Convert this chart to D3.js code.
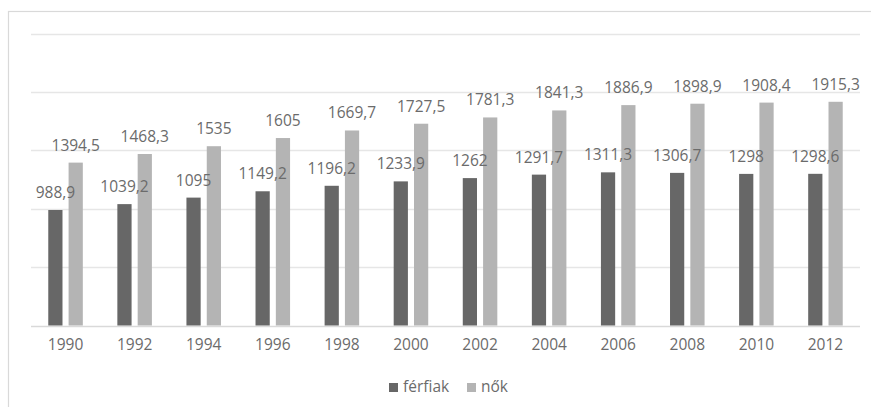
<!DOCTYPE html>
<html>
<head>
<meta charset="utf-8">
<script src="https://cdn.jsdelivr.net/npm/d3@7"></script>
<style>
  html, body { margin: 0; padding: 0; background: #fff; }
  svg { display: block; }
  text { font-family: "Open Sans", "Liberation Sans", sans-serif; fill: #6b6b6b; }
</style>
</head>
<body>
<svg id="chart" width="871" height="407"></svg>
<script>
// Years on the category axis
const years = ["1990","1992","1994","1996","1998","2000","2002","2004","2006","2008","2010","2012"];
// Series names
const seriesNames = ["férfiak", "nők"];
// Values per series, in year order
const ferfiak = [988.9, 1039.2, 1095, 1149.2, 1196.2, 1233.9, 1262, 1291.7, 1311.3, 1306.7, 1298, 1298.6];
const nok = [1394.5, 1468.3, 1535, 1605, 1669.7, 1727.5, 1781.3, 1841.3, 1886.9, 1898.9, 1908.4, 1915.3];
// Value-axis gridline positions
const gridTicks = [0, 500, 1000, 1500, 2000, 2500];

const colors = { "férfiak": "#676767", "nők": "#b4b4b4" };
const fmt = v => String(v).replace(".", ",");

const rows = years.map((y, i) => ({ year: y, "férfiak": ferfiak[i], "nők": nok[i] }));

const svg = d3.select("#chart");

// outer chart frame
svg.append("rect")
  .attr("x", 8.5).attr("y", 11.5)
  .attr("width", 900).attr("height", 450)
  .attr("fill", "none").attr("stroke", "#d9d9d9").attr("stroke-width", 1.2);

const plot = { left: 31, right: 860, top: 33.5, bottom: 325.5 };

const x0 = d3.scaleBand().domain(years).range([plot.left, plot.right])
  .paddingInner(0.5).paddingOuter(0.25);
const x1 = d3.scaleBand().domain(seriesNames).range([0, x0.bandwidth()])
  .paddingInner(0.3);
const y = d3.scaleLinear().domain([0, 2500]).range([plot.bottom, plot.top]);

// horizontal gridlines
svg.append("g").selectAll("line").data(gridTicks).join("line")
  .attr("x1", plot.left).attr("x2", plot.right)
  .attr("y1", d => Math.round(y(d)) + 0.5).attr("y2", d => Math.round(y(d)) + 0.5)
  .attr("stroke", d => d === 0 ? "#d9d9d9" : "#e6e6e6").attr("stroke-width", 1.3);

// grouped bars
const groups = svg.append("g").selectAll("g").data(rows).join("g")
  .attr("transform", d => `translate(${x0(d.year)},0)`);

groups.selectAll("rect").data(d => seriesNames.map(k => ({ key: k, value: d[k] }))).join("rect")
  .attr("x", d => x1(d.key))
  .attr("width", x1.bandwidth())
  .attr("y", d => y(d.value))
  .attr("height", d => y(0) - y(d.value))
  .attr("fill", d => colors[d.key]);

// value labels above each bar
groups.selectAll("text").data(d => seriesNames.map(k => ({ key: k, value: d[k] }))).join("text")
  .attr("x", d => x1(d.key) + x1.bandwidth() / 2)
  .attr("y", d => y(d.value) - 12)
  .attr("text-anchor", "middle")
  .attr("font-size", 15.5)
  .text(d => fmt(d.value));

// category axis labels
const xAxis = d3.axisBottom(x0).tickSize(0).tickPadding(0);
const axisG = svg.append("g").attr("transform", `translate(0,${plot.bottom})`).call(xAxis);
axisG.select(".domain").remove();
axisG.selectAll("text")
  .attr("y", 0).attr("dy", 0)
  .attr("transform", "translate(0,24)")
  .attr("font-size", 15.5)
  .style("fill", "#6b6b6b")
  .style("font-family", "\"Open Sans\", \"Liberation Sans\", sans-serif");

// legend
const legendItems = [
  { key: "férfiak", sx: 389, tx: 403 },
  { key: "nők", sx: 467, tx: 481 }
];
const legend = svg.append("g");
legend.selectAll("rect").data(legendItems).join("rect")
  .attr("x", d => d.sx).attr("y", 383).attr("width", 9).attr("height", 9)
  .attr("fill", d => colors[d.key]);
legend.selectAll("text").data(legendItems).join("text")
  .attr("x", d => d.tx).attr("y", 392)
  .attr("font-size", 15.5)
  .text(d => d.key);
</script>
</body>
</html>
